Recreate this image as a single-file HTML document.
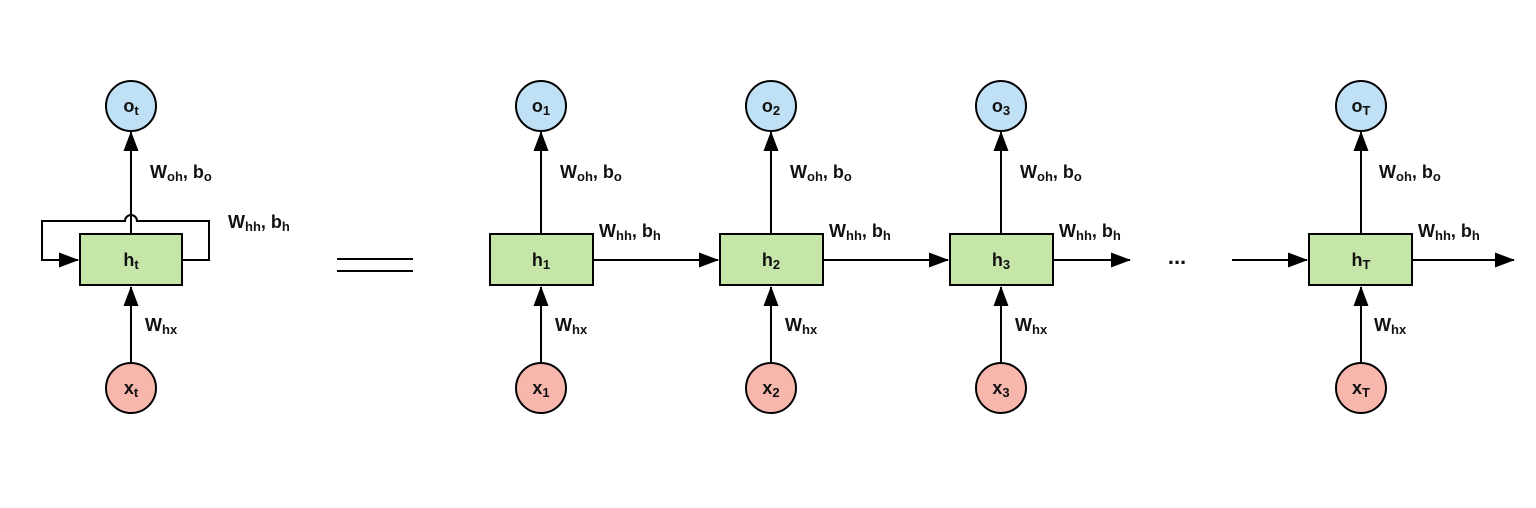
<!DOCTYPE html>
<html><head><meta charset="utf-8"><style>
html,body{margin:0;padding:0;background:#fff;}
svg{display:block;}
text{font-family:"Liberation Sans",Arial,sans-serif;font-weight:bold;fill:#111;}
</style></head><body>
<svg width="1536" height="508" viewBox="0 0 1536 508" xmlns="http://www.w3.org/2000/svg">
<defs>
<marker id="ah" markerWidth="20" markerHeight="15" refX="19" refY="7.5" orient="auto" markerUnits="userSpaceOnUse">
<path d="M0,0 L20,7.5 L0,15 Z" fill="#000"/>
</marker>
</defs>
<g stroke="#000" stroke-width="2" fill="none">
<path d="M131,234 V214 M131,214 V132" marker-end="url(#ah)"/>
<path d="M131,363 V287" marker-end="url(#ah)"/>
<path d="M182,260 H209 V221 H137 A6,6 0 0 0 125,221 H42 V260 H78" marker-end="url(#ah)"/>
<path d="M541,234 V132" marker-end="url(#ah)"/>
<path d="M541,363 V287" marker-end="url(#ah)"/>
<path d="M771,234 V132" marker-end="url(#ah)"/>
<path d="M771,363 V287" marker-end="url(#ah)"/>
<path d="M1001,234 V132" marker-end="url(#ah)"/>
<path d="M1001,363 V287" marker-end="url(#ah)"/>
<path d="M1361,234 V132" marker-end="url(#ah)"/>
<path d="M1361,363 V287" marker-end="url(#ah)"/>
<path d="M593,260 H718" marker-end="url(#ah)"/>
<path d="M823,260 H948" marker-end="url(#ah)"/>
<path d="M1053,260 H1130" marker-end="url(#ah)"/>
<path d="M1232,260 H1307" marker-end="url(#ah)"/>
<path d="M1412,260 H1514" marker-end="url(#ah)"/>
<path d="M337,259 H413 M337,271 H413"/>
</g>
<g stroke="#000" stroke-width="2">
<rect x="80" y="234" width="102" height="51" fill="#c6e5a8"/>
<rect x="490" y="234" width="103" height="51" fill="#c6e5a8"/>
<rect x="720" y="234" width="103" height="51" fill="#c6e5a8"/>
<rect x="950" y="234" width="103" height="51" fill="#c6e5a8"/>
<rect x="1309" y="234" width="103" height="51" fill="#c6e5a8"/>
<circle cx="131" cy="106" r="25" fill="#bfe0f5"/>
<circle cx="541" cy="106" r="25" fill="#bfe0f5"/>
<circle cx="771" cy="106" r="25" fill="#bfe0f5"/>
<circle cx="1001" cy="106" r="25" fill="#bfe0f5"/>
<circle cx="1361" cy="106" r="25" fill="#bfe0f5"/>
<circle cx="131" cy="388" r="25" fill="#f7b7ad"/>
<circle cx="541" cy="388" r="25" fill="#f7b7ad"/>
<circle cx="771" cy="388" r="25" fill="#f7b7ad"/>
<circle cx="1001" cy="388" r="25" fill="#f7b7ad"/>
<circle cx="1361" cy="388" r="25" fill="#f7b7ad"/>
</g>
<g font-size="18" text-anchor="middle">
<text x="131" y="112">o<tspan font-size="13" dy="3">t</tspan></text>
<text x="541" y="112">o<tspan font-size="13" dy="3">1</tspan></text>
<text x="771" y="112">o<tspan font-size="13" dy="3">2</tspan></text>
<text x="1001" y="112">o<tspan font-size="13" dy="3">3</tspan></text>
<text x="1361" y="112">o<tspan font-size="13" dy="3">T</tspan></text>
<text x="131" y="266">h<tspan font-size="13" dy="3">t</tspan></text>
<text x="541" y="266">h<tspan font-size="13" dy="3">1</tspan></text>
<text x="771" y="266">h<tspan font-size="13" dy="3">2</tspan></text>
<text x="1001" y="266">h<tspan font-size="13" dy="3">3</tspan></text>
<text x="1361" y="266">h<tspan font-size="13" dy="3">T</tspan></text>
<text x="131" y="394">x<tspan font-size="13" dy="3">t</tspan></text>
<text x="541" y="394">x<tspan font-size="13" dy="3">1</tspan></text>
<text x="771" y="394">x<tspan font-size="13" dy="3">2</tspan></text>
<text x="1001" y="394">x<tspan font-size="13" dy="3">3</tspan></text>
<text x="1361" y="394">x<tspan font-size="13" dy="3">T</tspan></text>
<text x="1177" y="264" font-size="22">...</text>
</g>
<g font-size="18">
<text x="150" y="178">W<tspan font-size="13" dy="3">oh</tspan><tspan dy="-3">, b</tspan><tspan font-size="13" dy="3">o</tspan></text>
<text x="560" y="178">W<tspan font-size="13" dy="3">oh</tspan><tspan dy="-3">, b</tspan><tspan font-size="13" dy="3">o</tspan></text>
<text x="790" y="178">W<tspan font-size="13" dy="3">oh</tspan><tspan dy="-3">, b</tspan><tspan font-size="13" dy="3">o</tspan></text>
<text x="1020" y="178">W<tspan font-size="13" dy="3">oh</tspan><tspan dy="-3">, b</tspan><tspan font-size="13" dy="3">o</tspan></text>
<text x="1379" y="178">W<tspan font-size="13" dy="3">oh</tspan><tspan dy="-3">, b</tspan><tspan font-size="13" dy="3">o</tspan></text>
<text x="228" y="228">W<tspan font-size="13" dy="3">hh</tspan><tspan dy="-3">, b</tspan><tspan font-size="13" dy="3">h</tspan></text>
<text x="599" y="237">W<tspan font-size="13" dy="3">hh</tspan><tspan dy="-3">, b</tspan><tspan font-size="13" dy="3">h</tspan></text>
<text x="829" y="237">W<tspan font-size="13" dy="3">hh</tspan><tspan dy="-3">, b</tspan><tspan font-size="13" dy="3">h</tspan></text>
<text x="1059" y="237">W<tspan font-size="13" dy="3">hh</tspan><tspan dy="-3">, b</tspan><tspan font-size="13" dy="3">h</tspan></text>
<text x="1418" y="237">W<tspan font-size="13" dy="3">hh</tspan><tspan dy="-3">, b</tspan><tspan font-size="13" dy="3">h</tspan></text>
<text x="145" y="331">W<tspan font-size="13" dy="3">hx</tspan></text>
<text x="555" y="331">W<tspan font-size="13" dy="3">hx</tspan></text>
<text x="785" y="331">W<tspan font-size="13" dy="3">hx</tspan></text>
<text x="1015" y="331">W<tspan font-size="13" dy="3">hx</tspan></text>
<text x="1374" y="331">W<tspan font-size="13" dy="3">hx</tspan></text>
</g>
</svg>
</body></html>
